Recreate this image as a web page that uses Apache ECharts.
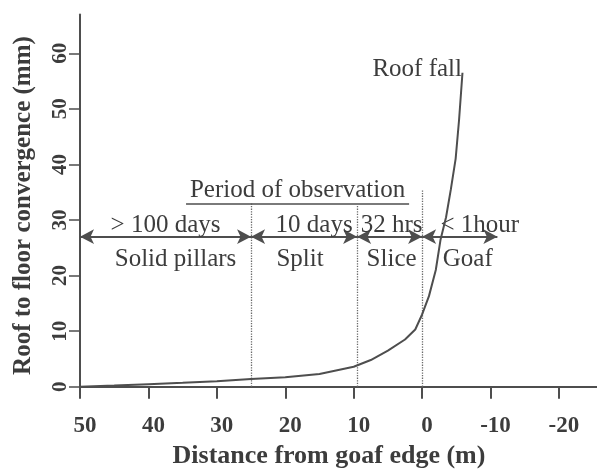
<!DOCTYPE html>
<html><head><meta charset="utf-8">
<script src="https://cdn.jsdelivr.net/npm/echarts@6/dist/echarts.min.js"></script>
<style>html,body{margin:0;padding:0;background:#fff}#c{width:597px;height:469px}</style>
</head><body><div id="c"></div>
<script>
// ---- data ----
const distance    = [50, 45, 40, 35, 30, 25, 20, 15, 10, 7.5, 5, 2.5, 1, 0, -1, -2, -2.7, -3.5, -4.2, -4.9, -5.4, -5.9];
const convergence = [0, 0.2, 0.45, 0.7, 1.0, 1.4, 1.7, 2.3, 3.6, 4.8, 6.5, 8.5, 10.3, 13.0, 16.3, 21, 26.5, 30.5, 35.5, 41, 48, 56.5];
const xTicks = [50, 40, 30, 20, 10, 0, -10, -20];
const yTicks = [0, 10, 20, 30, 40, 50, 60];
const phaseEdges = [50, 25, 9.5, 0, -11];
const durations = ['> 100 days', '10 days', '32 hrs', '< 1hour'];
const zones = ['Solid pillars', 'Split', 'Slice', 'Goaf'];
const arrowLevel = 27;
const boundaries = [25, 9.5, 0];
const boundaryTops = [33, 32.5, 35.5];
const headingSpan = [34.5, 1.9];
const headingLevel = 33.0;
const headingText = 'Period of observation';
const endNote = 'Roof fall';
const xName = 'Distance from goaf edge (m)';
const yName = 'Roof to floor convergence (mm)';

// ---- styling ----
const INK = '#3c3c3c';
const LINE = '#4e4e4e';
const SERIF = '"Liberation Serif", "DejaVu Serif", serif';
const ANN = 25;
// horizontal nudges (px) of the annotation texts relative to their arrow's middle
const durationNudge = [0, 10, 2, 20];
const zoneNudge = [10, -4, 2, 8];
const nudgePad = n => n >= 0 ? [0, 0, 0, 2 * n] : [0, -2 * n, 0, 0];

const curveData = distance.map((d, i) => [d, convergence[i]]);
const lastIdx = distance.length - 1;

const segments = durations.map((t, i) => [
  { coord: [phaseEdges[i], arrowLevel], name: t, label: { padding: nudgePad(durationNudge[i]) } },
  { coord: [phaseEdges[i + 1], arrowLevel] }
]);
const zoneSegments = zones.map((t, i) => [
  { coord: [phaseEdges[i], arrowLevel], name: t, label: { padding: nudgePad(zoneNudge[i]) } },
  { coord: [phaseEdges[i + 1], arrowLevel] }
]);

const chart = echarts.init(document.getElementById('c'), null, { renderer: 'canvas' });
chart.setOption({
  animation: false,
  backgroundColor: '#ffffff',
  grid: { left: 80, right: -3, top: 14.4, bottom: 82.3, containLabel: false, outerBoundsMode: 'none' },
  xAxis: {
    type: 'value', inverse: true, min: -26, max: 50,
    name: xName, nameLocation: 'middle', nameGap: 57,
    nameTextStyle: { color: INK, fontFamily: SERIF, fontSize: 26, fontWeight: 'bold', padding: [0, 22, 0, 0] },
    axisLine: { show: true, onZero: false, lineStyle: { color: LINE, width: 2 } },
    axisTick: { show: true, inside: false, length: 12, lineStyle: { color: LINE, width: 2 }, customValues: xTicks },
    axisLabel: { customValues: xTicks, margin: 28, padding: [0, 0, 0, 10], color: INK, fontFamily: SERIF, fontSize: 23, fontWeight: 'bold' },
    splitLine: { show: false }
  },
  yAxis: {
    type: 'value', min: 0, max: 67,
    name: yName, nameLocation: 'middle', nameGap: 44, nameRotate: 90,
    nameTextStyle: { color: INK, fontFamily: SERIF, fontSize: 25, fontWeight: 'bold', padding: [0, 10, 0, 0] },
    axisLine: { show: true, onZero: false, lineStyle: { color: LINE, width: 2 } },
    axisTick: { show: true, inside: false, length: 11, lineStyle: { color: LINE, width: 1.5 }, customValues: yTicks },
    axisLabel: { customValues: yTicks, rotate: 90, margin: 9, color: INK, fontFamily: SERIF, fontSize: 21, fontWeight: 'bold' },
    splitLine: { show: false }
  },
  series: [
    {
      type: 'line', data: curveData, showSymbol: false, symbol: 'none', smooth: false,
      lineStyle: { color: LINE, width: 2 }, silent: true, z: 5,
      markPoint: {
        silent: true, symbol: 'circle', symbolSize: 1, itemStyle: { color: 'transparent' },
        label: { show: true, position: 'left', distance: 0, formatter: '{b}', offset: [0, -3],
          color: INK, fontFamily: SERIF, fontSize: ANN },
        data: [{ coord: [distance[lastIdx], convergence[lastIdx]], name: endNote }]
      }
    },
    {
      type: 'line', data: [], silent: true,
      markLine: {
        silent: true, symbol: 'none', animation: false,
        lineStyle: { type: 'dotted', color: '#6a6a6a', width: 1.3 },
        label: { show: false },
        data: boundaries.map((b, i) => [{ coord: [b, 0] }, { coord: [b, boundaryTops[i]] }])
      }
    },
    {
      type: 'line', data: [], silent: true,
      markLine: {
        silent: true, symbol: ['arrow', 'arrow'], symbolSize: [11, 14], animation: false,
        lineStyle: { type: 'solid', color: LINE, width: 2 },
        label: { show: true, position: 'insideMiddleTop', distance: -1, formatter: '{b}',
          color: INK, fontFamily: SERIF, fontSize: ANN },
        data: segments
      }
    },
    {
      type: 'line', data: [], silent: true,
      markLine: {
        silent: true, symbol: 'none', animation: false,
        lineStyle: { color: 'transparent', width: 0 },
        label: { show: true, position: 'insideMiddleBottom', distance: 10, formatter: '{b}',
          color: INK, fontFamily: SERIF, fontSize: ANN },
        data: zoneSegments
      }
    },
    {
      type: 'line', data: [], silent: true,
      markLine: {
        silent: true, symbol: 'none', animation: false,
        lineStyle: { type: 'solid', color: LINE, width: 1.5 },
        label: { show: true, position: 'insideMiddleTop', distance: 0, formatter: '{b}',
          color: INK, fontFamily: SERIF, fontSize: ANN },
        data: [[{ coord: [headingSpan[0], headingLevel], name: headingText }, { coord: [headingSpan[1], headingLevel] }]]
      }
    }
  ]
});
</script></body></html>
